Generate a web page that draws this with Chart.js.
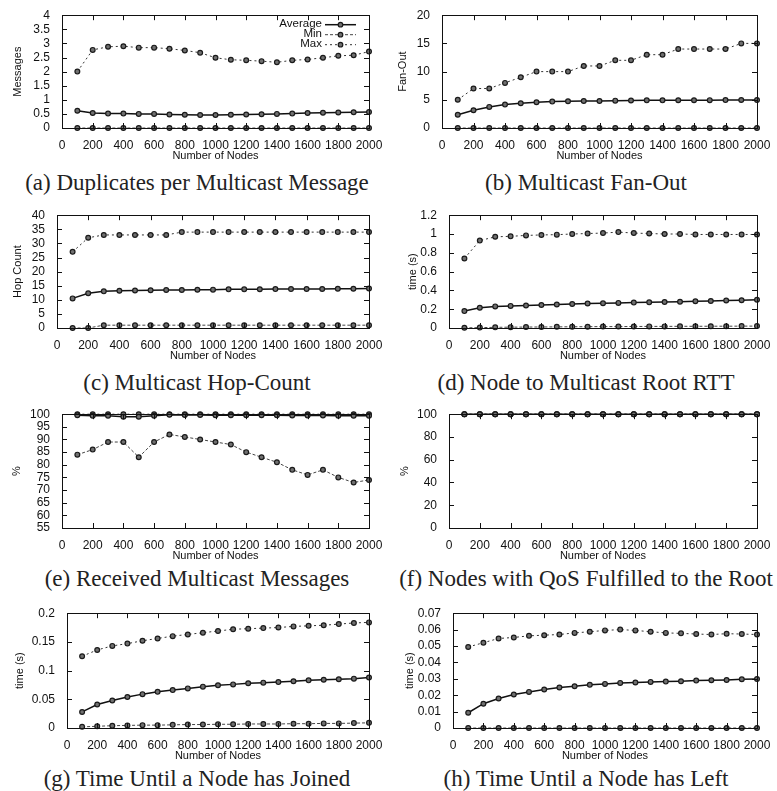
<!DOCTYPE html>
<html>
<head>
<meta charset="utf-8">
<script src="https://cdn.jsdelivr.net/npm/chart.js@4"></script>
<style>
  body { margin: 0; background: #fff; width: 777px; height: 791px; position: relative; overflow: hidden; }
  canvas { position: absolute; }
  .cap { position: absolute; width: 600px; text-align: center; font-family: "Liberation Serif", "Times New Roman", serif; font-size: 23px; line-height: 24px; white-space: nowrap; color: #222; }
</style>
</head>
<body>
<script>
// x values shared by every panel
const nodes = [100, 200, 300, 400, 500, 600, 700, 800, 900, 1000, 1100, 1200, 1300, 1400, 1500, 1600, 1700, 1800, 1900, 2000];
const seriesNames = ['Average', 'Min', 'Max'];

// (a) duplicates per multicast message
const dupAvg = [0.61, 0.53, 0.51, 0.51, 0.50, 0.50, 0.48, 0.47, 0.46, 0.46, 0.47, 0.48, 0.49, 0.50, 0.51, 0.53, 0.54, 0.55, 0.56, 0.57];
const dupMin = [0, 0, 0, 0, 0, 0, 0, 0, 0, 0, 0, 0, 0, 0, 0, 0, 0, 0, 0, 0];
const dupMax = [2.0, 2.77, 2.88, 2.9, 2.85, 2.85, 2.81, 2.75, 2.67, 2.49, 2.42, 2.40, 2.37, 2.33, 2.40, 2.43, 2.49, 2.56, 2.58, 2.71];

// (b) fan-out
const fanAvg = [2.34, 3.16, 3.74, 4.15, 4.39, 4.56, 4.68, 4.74, 4.8, 4.8, 4.85, 4.87, 4.9, 4.9, 4.92, 4.93, 4.94, 4.95, 4.96, 4.97];
const fanMin = [0, 0, 0, 0, 0, 0, 0, 0, 0, 0, 0, 0, 0, 0, 0, 0, 0, 0, 0, 0];
const fanMax = [5, 7, 7, 8, 9, 10, 10, 10, 11, 11, 12, 12, 13, 13, 14, 14, 14, 14, 15, 15];

// (c) hop count
const hopAvg = [10.5, 12.3, 13.0, 13.2, 13.3, 13.4, 13.45, 13.5, 13.55, 13.6, 13.7, 13.7, 13.75, 13.8, 13.8, 13.85, 13.85, 13.9, 13.9, 14.0];
const hopMin = [0, 0, 1, 1, 1, 1, 1, 1, 1, 1, 1, 1, 1, 1, 1, 1, 1, 1, 1, 1];
const hopMax = [27, 32, 33, 33, 33, 33, 33, 34, 34, 34, 34, 34, 34, 34, 34, 34, 34, 34, 34, 34];

// (d) rtt to root
const rttAvg = [0.18, 0.215, 0.23, 0.235, 0.24, 0.245, 0.25, 0.255, 0.26, 0.263, 0.267, 0.27, 0.273, 0.277, 0.28, 0.284, 0.288, 0.292, 0.296, 0.30];
const rttMin = [0.002, 0.004, 0.007, 0.009, 0.01, 0.011, 0.012, 0.013, 0.014, 0.015, 0.015, 0.016, 0.017, 0.017, 0.018, 0.018, 0.019, 0.019, 0.02, 0.02];
const rttMax = [0.74, 0.93, 0.97, 0.975, 0.985, 0.99, 0.993, 1.0, 1.005, 1.01, 1.02, 1.01, 1.005, 1.0, 1.0, 0.995, 0.995, 0.995, 0.995, 0.995];

// (e) received messages
const recvAvg = [99.6, 99.4, 99.4, 99.0, 99.0, 99.4, 99.8, 99.7, 99.7, 99.6, 99.6, 99.6, 99.6, 99.6, 99.5, 99.5, 99.5, 99.4, 99.4, 99.4];
const recvMin = [84, 86, 89, 89, 83, 89, 92, 91, 90, 89, 88, 85, 83, 81, 78, 76, 78, 75, 73, 74];
const recvMax = [100, 100, 100, 100, 100, 100, 100, 100, 100, 100, 100, 100, 100, 100, 100, 100, 100, 100, 100, 100];

// (f) qos fulfilled
const qosAvg = [100, 100, 100, 100, 100, 100, 100, 100, 100, 100, 100, 100, 100, 100, 100, 100, 100, 100, 100, 100];
const qosMin = [100, 100, 100, 100, 100, 100, 100, 100, 100, 100, 100, 100, 100, 100, 100, 100, 100, 100, 100, 100];
const qosMax = [100, 100, 100, 100, 100, 100, 100, 100, 100, 100, 100, 100, 100, 100, 100, 100, 100, 100, 100, 100];

// (g) join time
const joinAvg = [0.028, 0.041, 0.048, 0.054, 0.059, 0.063, 0.066, 0.069, 0.072, 0.0745, 0.076, 0.078, 0.079, 0.080, 0.0815, 0.083, 0.084, 0.085, 0.086, 0.088];
const joinMin = [0.002, 0.003, 0.004, 0.0045, 0.005, 0.005, 0.0055, 0.006, 0.006, 0.0065, 0.0065, 0.007, 0.007, 0.007, 0.0075, 0.0075, 0.008, 0.008, 0.0085, 0.009];
const joinMax = [0.125, 0.136, 0.143, 0.147, 0.152, 0.156, 0.16, 0.163, 0.166, 0.169, 0.172, 0.173, 0.174, 0.175, 0.177, 0.178, 0.179, 0.181, 0.183, 0.184];

// (h) leave time
const leaveAvg = [0.0093, 0.0148, 0.018, 0.0204, 0.022, 0.0235, 0.0247, 0.0255, 0.0263, 0.0269, 0.0275, 0.0277, 0.0281, 0.0283, 0.0285, 0.0289, 0.0291, 0.0293, 0.0297, 0.0299];
const leaveMin = [0, 0, 0, 0, 0, 0, 0, 0, 0, 0, 0, 0, 0, 0, 0, 0, 0, 0, 0, 0];
const leaveMax = [0.0494, 0.052, 0.0546, 0.0552, 0.0562, 0.0566, 0.057, 0.058, 0.0587, 0.0595, 0.060, 0.0595, 0.0587, 0.058, 0.0577, 0.0573, 0.057, 0.0575, 0.0573, 0.057];

// layout of the 8 panels: plot box [left, top, right, bottom] in page px
const panels = [
  { col: 0, plot: [62, 14, 369, 128], y: [0, 4, 0.5], title: 'Messages', tpad: 11, data: [dupAvg, dupMin, dupMax], cap: '(a) Duplicates per Multicast Message', capY: 171, legend: true },
  { col: 1, plot: [442, 14, 757, 128], y: [0, 20, 5], title: 'Fan-Out', tpad: 8, data: [fanAvg, fanMin, fanMax], cap: '(b) Multicast Fan-Out', capY: 171 },
  { col: 0, plot: [57, 214, 369, 328], y: [0, 40, 5], title: 'Hop Count', tpad: 11, data: [hopAvg, hopMin, hopMax], cap: '(c) Multicast Hop-Count', capY: 371 },
  { col: 1, plot: [449, 214, 757, 328], y: [0, 1.2, 0.2], title: 'time (s)', tpad: 18, data: [rttAvg, rttMin, rttMax], cap: '(d) Node to Multicast Root RTT', capY: 371 },
  { col: 0, plot: [62, 413, 369, 528], y: [55, 100, 5], title: '%', tpad: 10, data: [recvAvg, recvMin, recvMax], cap: '(e) Received Multicast Messages', capY: 567 },
  { col: 1, plot: [449, 413, 757, 528], y: [0, 100, 20], title: '%', tpad: 10, data: [qosAvg, qosMin, qosMax], cap: '(f) Nodes with QoS Fulfilled to the Root', capY: 567 },
  { col: 0, plot: [67, 612, 369, 728], y: [0, 0.2, 0.05], title: 'time (s)', tpad: 13, data: [joinAvg, joinMin, joinMax], cap: '(g) Time Until a Node has Joined', capY: 767 },
  { col: 1, plot: [453, 612, 757, 728], y: [0, 0.07, 0.01], title: 'time (s)', tpad: 15, data: [leaveAvg, leaveMin, leaveMax], cap: '(h) Time Until a Node has Left', capY: 767 }
];
const capCenters = [197, 586];

const lineColors = ['#111111', '#444444', '#333333'];
const lineDash = [[], [3, 2], [2, 3]];
const lineWidths = [1.5, 1, 1];

Chart.defaults.font.family = '"Liberation Sans", Arial, sans-serif';
Chart.defaults.font.size = 12;
Chart.defaults.color = '#111';

// frame + inward tick marks on all four sides, gnuplot style
const framePlugin = {
  id: 'frame',
  afterDatasetsDraw(chart) {
    const { ctx, chartArea: a, scales: { x, y } } = chart;
    ctx.save();
    ctx.strokeStyle = '#111';
    ctx.lineWidth = 1;
    ctx.beginPath();
    x.ticks.forEach(t => {
      const px = Math.round(x.getPixelForValue(t.value)) + 0.5;
      ctx.moveTo(px, a.bottom); ctx.lineTo(px, a.bottom - 5);
      ctx.moveTo(px, a.top); ctx.lineTo(px, a.top + 5);
    });
    y.ticks.forEach(t => {
      const py = Math.round(y.getPixelForValue(t.value)) + 0.5;
      ctx.moveTo(a.left, py); ctx.lineTo(a.left + 5, py);
      ctx.moveTo(a.right, py); ctx.lineTo(a.right - 5, py);
    });
    ctx.stroke();
    ctx.strokeRect(Math.round(a.left) + 0.5, Math.round(a.top) + 0.5, Math.round(a.right - a.left), Math.round(a.bottom - a.top));
    ctx.restore();
  }
};

// key in the top right corner, text then line sample with a point
const keyPlugin = {
  id: 'key',
  afterDatasetsDraw(chart) {
    const { ctx, chartArea: a } = chart;
    ctx.save();
    ctx.font = '11.5px "Liberation Sans", Arial, sans-serif';
    ctx.textAlign = 'right';
    ctx.textBaseline = 'middle';
    chart.data.datasets.forEach((ds, i) => {
      const yy = a.top + 9 + i * 10;
      ctx.fillStyle = '#111';
      ctx.fillText(ds.label, a.right - 47, yy);
      ctx.strokeStyle = ds.borderColor;
      ctx.lineWidth = ds.borderWidth;
      ctx.setLineDash(ds.borderDash);
      ctx.beginPath();
      ctx.moveTo(a.right - 44, yy + 0.5);
      ctx.lineTo(a.right - 13, yy + 0.5);
      ctx.stroke();
      ctx.setLineDash([]);
      ctx.beginPath();
      ctx.arc(a.right - 28.5, yy + 0.5, 2.3, 0, Math.PI * 2);
      ctx.fillStyle = '#707070';
      ctx.fill();
      ctx.strokeStyle = '#1a1a1a';
      ctx.lineWidth = 1.2;
      ctx.stroke();
    });
    ctx.restore();
  }
};

const fmt = v => String(+Number(v).toFixed(3));

panels.forEach(p => {
  const [l, t, r, b] = p.plot;
  const colX = p.col === 0 ? 0 : 388;
  const colW = p.col === 0 ? 388 : 389;
  const padTop = 10, xAxisH = 35;

  const canvas = document.createElement('canvas');
  canvas.width = colW;
  canvas.height = padTop + (b - t) + xAxisH;
  canvas.style.left = colX + 'px';
  canvas.style.top = (t - padTop) + 'px';
  document.body.appendChild(canvas);

  const cap = document.createElement('div');
  cap.className = 'cap';
  cap.textContent = p.cap;
  cap.style.left = (capCenters[p.col] - 300) + 'px';
  cap.style.top = p.capY + 'px';
  document.body.appendChild(cap);

  new Chart(canvas, {
    type: 'line',
    data: {
      datasets: p.data.map((vals, i) => ({
        label: seriesNames[i],
        data: nodes.map((n, k) => ({ x: n, y: vals[k] })),
        borderColor: lineColors[i],
        borderWidth: lineWidths[i],
        borderDash: lineDash[i],
        pointRadius: 2.4,
        pointBackgroundColor: '#707070',
        pointBorderColor: '#1a1a1a',
        pointBorderWidth: 1.2,
        tension: 0,
        clip: false
      }))
    },
    options: {
      responsive: false,
      animation: false,
      events: [],
      layout: { padding: { top: padTop, right: colX + colW - r, bottom: 0, left: 0 } },
      plugins: { legend: { display: false }, tooltip: { enabled: false } },
      scales: {
        x: {
          type: 'linear', min: 0, max: 2000,
          grid: { display: false }, border: { display: false },
          ticks: { stepSize: 200, autoSkip: false, maxRotation: 0, minRotation: 0, padding: 2, callback: v => String(v) },
          title: { display: true, text: 'Number of Nodes', font: { size: 11 }, padding: { top: 0, bottom: 0 } },
          afterFit: s => { s.height = xAxisH; }
        },
        y: {
          type: 'linear', min: p.y[0], max: p.y[1],
          grid: { display: false }, border: { display: false },
          ticks: { stepSize: p.y[2], autoSkip: false, padding: 4, callback: fmt },
          title: { display: true, text: p.title, font: { size: 11 }, padding: { top: p.tpad, bottom: 0 } },
          afterFit: s => { s.width = l - colX; }
        }
      }
    },
    plugins: p.legend ? [framePlugin, keyPlugin] : [framePlugin]
  });
});
</script>
</body>
</html>
